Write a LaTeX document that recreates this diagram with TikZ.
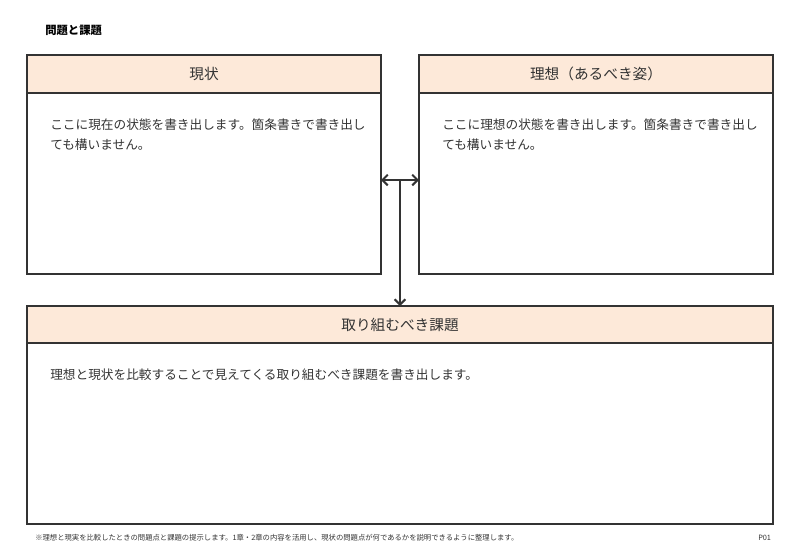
\documentclass[tikz,border=0pt]{standalone}
\usepackage{fontspec}
\setmainfont{Noto Sans CJK JP}
\usetikzlibrary{arrows.meta}
\definecolor{hdr}{HTML}{FDE9D9}
\definecolor{ln}{HTML}{333333}
\tikzset{x=0.75pt,y=-0.75pt,
 box/.style={draw=ln,line width=1pt},
 hbox/.style={draw=ln,line width=1pt,fill=hdr},
 txt/.style={anchor=west,inner sep=0,font=\fontsize{9.5}{12}\selectfont,text=ln},
 htxt/.style={inner sep=0,font=\fontsize{11}{13}\selectfont,text=ln},
 arr/.style={draw=ln,line width=1.5pt,-{Straight Barb[length=4pt,width=8pt]}}}
\begin{document}
\begin{tikzpicture}
\useasboundingbox (0,0) rectangle (800,554);
\node[anchor=west,inner sep=0,font=\fontsize{8.5}{10}\selectfont\bfseries] (title) at (45,30) {問題と課題};
% left
\draw[box] (27,55) rectangle (381,274);
\draw[hbox] (27,55) rectangle (381,93);
\node[htxt] (lh) at (204,74) {現状};
\node[txt] (lt1) at (50,125) {ここに現在の状態を書き出します。箇条書きで書き出し};
\node[txt] (lt2) at (50,145) {ても構いません。};
% right
\draw[box] (419,55) rectangle (773,274);
\draw[hbox] (419,55) rectangle (773,93);
\node[htxt] (rh) at (596,74) {理想（あるべき姿）};
\node[txt] (rt1) at (442,125) {ここに理想の状態を書き出します。箇条書きで書き出し};
\node[txt] (rt2) at (442,145) {ても構いません。};
% bottom
\draw[box] (27,306) rectangle (773,524);
\draw[hbox] (27,306) rectangle (773,343);
\node[htxt] (bh) at (400,325) {取り組むべき課題};
\node[txt] (bt) at (50,375) {理想と現状を比較することで見えてくる取り組むべき課題を書き出します。};
% arrows
\coordinate (L) at (381,180); \coordinate (R) at (419,180);
\coordinate (M) at (400,180); \coordinate (B) at (400,306);
\draw[arr,{Straight Barb[length=4pt,width=8pt]}-{Straight Barb[length=4pt,width=8pt]}] (L) -- (R);
\draw[arr] (M) -- (B);
\node[anchor=west,inner sep=0,font=\fontsize{5.5}{7}\selectfont,text=ln] (fn) at (35,538) {※理想と現実を比較したときの問題点と課題の提示します。1章・2章の内容を活用し、現状の問題点が何であるかを説明できるように整理します。};
\node[anchor=west,inner sep=0,font=\fontsize{5.5}{7}\selectfont,text=ln] (pg) at (758,538) {P01};
\end{tikzpicture}
\end{document}
